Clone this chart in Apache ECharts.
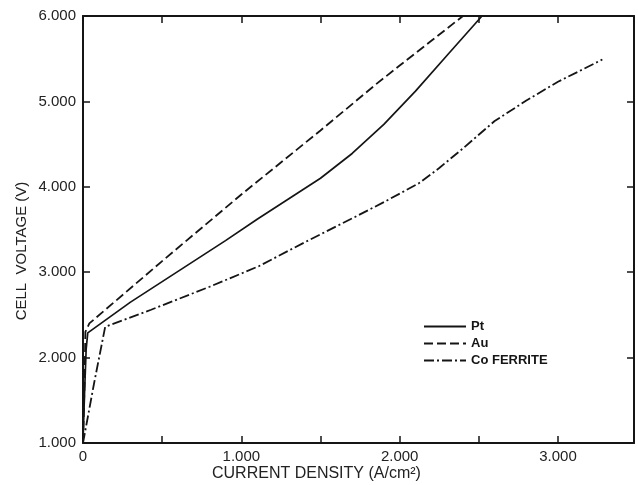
<!DOCTYPE html>
<html>
<head>
<meta charset="utf-8">
<script src="https://cdn.jsdelivr.net/npm/echarts@6/dist/echarts.min.js"></script>
<style>
html,body{margin:0;padding:0;background:#fff;}
#chart{width:638px;height:485px;}
</style>
</head>
<body>
<div id="chart"></div>
<script>
// Current density (A/cm2), cell voltage (V)
const ptX = [0, 0.01, 0.02, 0.03, 0.3, 0.6, 0.9, 1.1, 1.3, 1.5, 1.7, 1.9, 2.1, 2.3, 2.52];
const ptY = [1.0, 1.6, 2.1, 2.29, 2.65, 3.01, 3.37, 3.62, 3.86, 4.10, 4.39, 4.73, 5.12, 5.54, 6.0];

const auX = [0, 0.01, 0.015, 0.04, 0.5, 1.0, 1.5, 1.85, 2.0, 2.2, 2.40];
const auY = [1.0, 1.7, 2.3, 2.4, 3.13, 3.91, 4.66, 5.20, 5.42, 5.71, 6.0];

const coX = [0, 0.07, 0.14, 0.43, 0.8, 1.11, 1.4, 1.7, 1.9, 2.12, 2.25, 2.4, 2.6, 2.8, 3.0, 3.28];
const coY = [1.0, 1.7, 2.36, 2.56, 2.83, 3.07, 3.35, 3.63, 3.82, 4.04, 4.22, 4.45, 4.77, 5.01, 5.23, 5.49];

const seriesNames = ['Pt', 'Au', 'Co FERRITE'];
const xTitle = 'CURRENT DENSITY (A/cm²)';
const yTitle = 'CELL  VOLTAGE (V)';

const pairs = (xs, ys) => xs.map((x, i) => [x, ys[i]]);

const ink = '#151515';
const font = 'Liberation Sans';

const chart = echarts.init(document.getElementById('chart'));
const axisCommon = () => ({
  type: 'value',
  axisLine: { show: true, onZero: false, lineStyle: { color: ink, width: 2 } },
  axisTick: { show: true, inside: true, length: 7, lineStyle: { color: ink, width: 1.5 } },
  splitLine: { show: false }
});
const xFmt = v => (Math.abs(v % 1) < 1e-9 ? (v === 0 ? '0' : v.toFixed(3)) : '');
chart.setOption({
  backgroundColor: '#fff',
  animation: false,
  grid: { left: 83, right: 4, top: 16, bottom: 42, containLabel: false },
  xAxis: [
    Object.assign(axisCommon(), {
      position: 'bottom', min: 0, max: 3.48, interval: 0.5,
      axisLabel: { formatter: xFmt, color: '#222', fontFamily: font, fontSize: 15, margin: 6, showMaxLabel: false }
    }),
    Object.assign(axisCommon(), {
      position: 'top', min: 0, max: 3.48, interval: 0.5,
      axisLabel: { show: false }
    })
  ],
  yAxis: [
    Object.assign(axisCommon(), {
      position: 'left', min: 1, max: 6, interval: 1,
      axisLabel: { formatter: v => v.toFixed(3), color: '#222', fontFamily: font, fontSize: 15, margin: 7 }
    }),
    Object.assign(axisCommon(), {
      position: 'right', min: 1, max: 6, interval: 1,
      axisLabel: { show: false }
    })
  ],
  legend: {
    orient: 'vertical', left: 418, top: 315,
    itemWidth: 42, itemHeight: 12, itemGap: 4,
    itemStyle: { opacity: 0 },
    textStyle: { color: ink, fontFamily: font, fontSize: 13, fontWeight: 'bold' },
    data: seriesNames
  },
  series: [
    { name: seriesNames[0], type: 'line', data: pairs(ptX, ptY), symbol: 'none',
      lineStyle: { color: ink, width: 1.7, type: 'solid' }, itemStyle: { color: ink } },
    { name: seriesNames[1], type: 'line', data: pairs(auX, auY), symbol: 'none',
      lineStyle: { color: ink, width: 1.8, type: [9, 4] }, itemStyle: { color: ink } },
    { name: seriesNames[2], type: 'line', data: pairs(coX, coY), symbol: 'none',
      lineStyle: { color: ink, width: 1.8, type: [10, 3, 2, 3] }, itemStyle: { color: ink } }
  ],
  graphic: [
    { type: 'text', left: 212, top: 466,
      style: { text: xTitle, fill: '#222', font: '16px "Liberation Sans"' } },
    { type: 'text', x: 22, y: 251, rotation: Math.PI / 2,
      style: { text: yTitle, fill: '#222', font: '15px "Liberation Sans"', textAlign: 'center', textVerticalAlign: 'middle' } }
  ]
});
</script>
</body>
</html>
